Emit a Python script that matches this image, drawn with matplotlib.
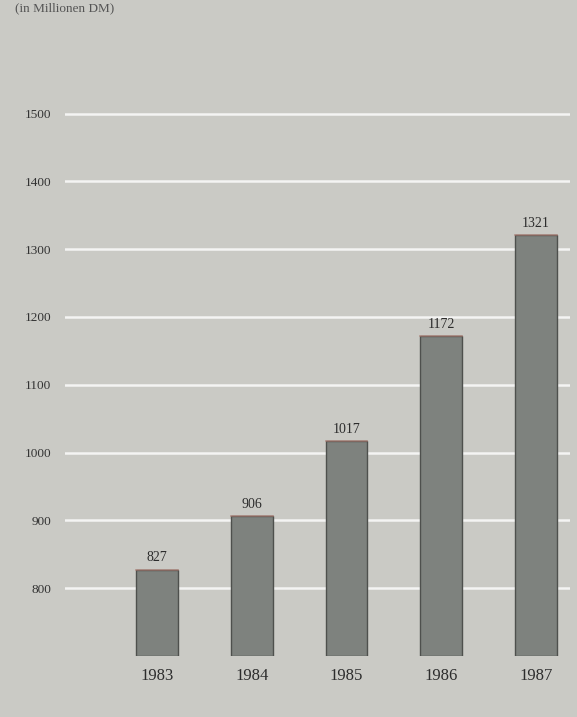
import numpy as np
import matplotlib.pyplot as plt

years = ['1983', '1984', '1985', '1986', '1987']
values = [827, 906, 1017, 1172, 1321]
yticks = [800, 900, 1000, 1100, 1200, 1300, 1400, 1500]

bg = '#cacac5'
bar_col = '#7e827e'
txt = '#2c2c2c'

W, H = 577, 717
fig = plt.figure(figsize=(W / 100, H / 100), dpi=100, facecolor=bg)
# axes box in pixel units: left 65, right 570, top 100, bottom 656
ax = fig.add_axes([65 / W, (H - 656) / H, (570 - 65) / W, (656 - 100) / H])
ax.set_facecolor(bg)

x = np.arange(len(years))
ax.set_xlim(-0.971, 4.36)
ax.set_ylim(700, 1520)

for yv in yticks:
    ax.axhline(yv, color='white', lw=1.8, alpha=0.8, zorder=1)

bars = ax.bar(x, [v - 700 for v in values], bottom=700, width=0.44,
              color=bar_col, edgecolor='#4e504d', linewidth=1.0, zorder=2)

for xi, v in zip(x, values):
    ax.plot([xi - 0.22, xi + 0.22], [v, v], color='#a6766c', lw=1.2,
            zorder=3, alpha=0.7)
    ax.text(xi, v + 8, str(v), ha='center', va='bottom', fontsize=10,
            family='Liberation Serif', color=txt)

for s in ax.spines.values():
    s.set_visible(False)
ax.set_yticks(yticks)
ax.set_yticklabels([str(t) for t in yticks], family='Liberation Serif',
                   fontsize=9.5, color='#333333')
ax.tick_params(axis='y', length=0, pad=10)
ax.set_xticks(x)
ax.set_xticklabels(years, family='Liberation Serif', fontsize=12,
                   color=txt)
ax.tick_params(axis='x', length=0, pad=9)

# unit caption along the top edge
fig.text(15 / W, 1 - 8 / H, '(in Millionen DM)', ha='left', va='center',
         family='Liberation Serif', fontsize=9.5, color='#555555')

fig.savefig('out.png', dpi=100, facecolor=bg)
